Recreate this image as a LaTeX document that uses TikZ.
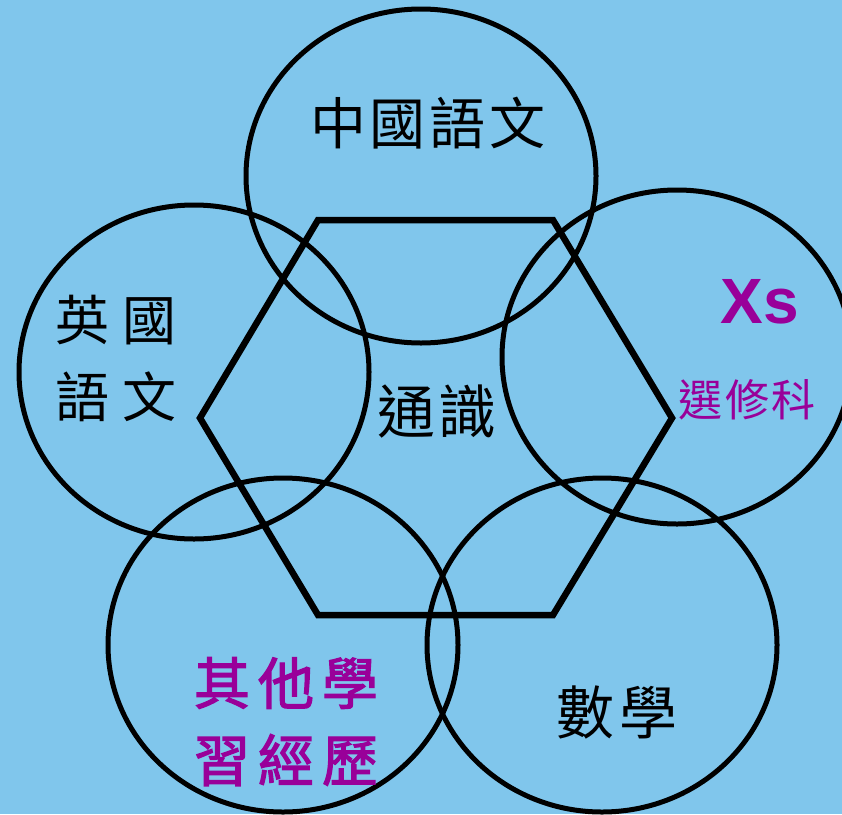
\documentclass[tikz,border=0pt]{standalone}
\usepackage{fontspec}
\usetikzlibrary{shapes.geometric}
\newfontfamily\cjk{Noto Sans CJK TC}[AutoFakeBold=2.2]
\newfontfamily\latinb{Liberation Sans Bold}
\definecolor{bgblue}{RGB}{128,198,236}
\definecolor{xspurple}{RGB}{153,0,153}
\tikzset{
  ring/.style={draw=black, line width=5pt, ellipse, minimum width=350pt, minimum height=334pt, inner sep=0pt},
  hexline/.style={draw=black, line width=6.5pt, line join=miter},
  blacktext/.style={text=black, font=\cjk, inner sep=0pt},
  purpletext/.style={text=xspurple, inner sep=0pt},
}
\begin{document}
\begin{tikzpicture}[x=1pt, y=-1pt]
\fill[bgblue] (0,0) rectangle (842,814);
\useasboundingbox (0,0) rectangle (842,814);
% circles
\node[ring] (top) at (421,176) {};
\node[ring] (left) at (194,372) {};
\node[ring] (right) at (677,357) {};
\node[ring] (botleft) at (283,645) {};
\node[ring] (botright) at (602,645) {};
% hexagon
\coordinate (h1) at (318,220);
\coordinate (h2) at (553,220);
\coordinate (h3) at (672,418);
\coordinate (h4) at (553,615);
\coordinate (h5) at (318,615);
\coordinate (h6) at (200,418);
\draw[hexline] (h1) -- (h2) -- (h3) -- (h4) -- (h5) -- (h6) -- cycle;
% texts
\node[blacktext, font=\cjk\fontsize{56}{60}\selectfont] (chi) at (428,123) {中\kern4pt 國\kern4pt 語\kern4pt 文};
\node[blacktext, font=\cjk\fontsize{54}{60}\selectfont] (eng1) at (116,320) {英\kern14pt 國};
\node[blacktext, font=\cjk\fontsize{54}{60}\selectfont] (eng2) at (116,397) {語\kern14pt 文};
\node[blacktext, font=\cjk\fontsize{58}{60}\selectfont] (ls) at (437,412) {通\kern4pt 識};
\node[blacktext, font=\cjk\fontsize{58}{60}\selectfont] (math) at (617,712) {數\kern6pt 學};
\node[purpletext, font=\latinb\fontsize{64}{66}\selectfont, anchor=base] (xs) at (760,323) {Xs};
\node[purpletext, font=\cjk\fontsize{44}{48}\selectfont] (elec) at (747,400) {選\kern3pt 修\kern3pt 科};
\node[purpletext, font=\cjk\bfseries\fontsize{56}{60}\selectfont] (ole1) at (286,683) {其\kern8pt 他\kern8pt 學};
\node[purpletext, font=\cjk\bfseries\fontsize{56}{60}\selectfont] (ole2) at (286,760) {習\kern8pt 經\kern8pt 歷};
\end{tikzpicture}
\end{document}
